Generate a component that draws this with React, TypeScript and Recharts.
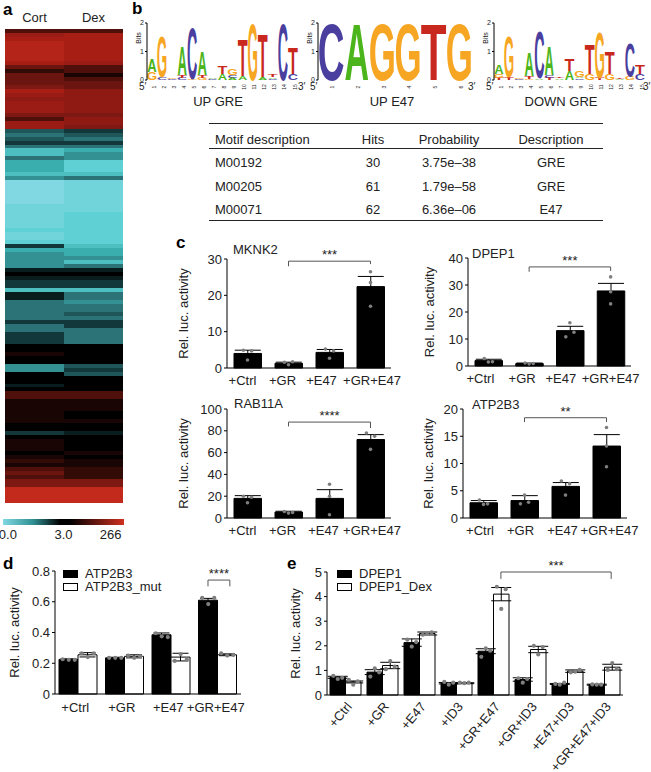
import React from "react";
import {
  Bar,
  BarChart,
  Cell,
  ComposedChart,
  ErrorBar,
  Legend,
  ReferenceLine,
  Scatter,
  XAxis,
  YAxis,
} from "recharts";

const FONT = '"Liberation Sans", Arial, sans-serif';
const INK = "#222";

// panel a: heatmap rows, in tenths of the colour scale (-10 cyan, 0 black, 10 red)
const heatColumns = ["Cort", "Dex"];
const cortValues = [
  3, 7, 8, 9, 9, 9, 9, 9, 8, 4, 2, 4, 4, 4, 5, 8, 7, 6, 7, 7, 7, 5, 3, 7, 7,
  -3, -4, -3, -2, -4, -7, -7, -4, -6, -6, -6, -7, -5,
  -10, -10, -10, -10, -10, -10, -9, -9, -9, -9, -9, -9, -8, -9, -9, -8,
  -2, -6, -5, -5, -5, -5, -1,
  0, -1, -2, -2, -7, -1, -1, -4, -4, -4, -4, -4, -2, -4, -4, -2, -2, -2, 0, 0, 1, 0, 0, -5, -5, 0, 0, 0,
  -1, 0, 3, 3, 1, 1, 1, 1, 1, 1, 0, 0, -2, 0, 1, 1, 1, 0, 1, 2, 1, 3, 4, 3, 5, 5,
  10, 10, 10, 10,
];
const dexValues = [
  3, 8, 8, 8, 8, 8, 8, 8, 7, 3, 3, 1, 3, 4, 4, 6, 6, 6, 6, 6, 6, 5, 6, 6, 5,
  -2, -3, -4, -2, -4, -6, -5, -5, -8, -8, -8, -7, -4,
  -9, -9, -9, -9, -9, -9, -9, -9, -8, -8, -8, -8, -8, -8, -8, -8,
  -7, -6, -6, -5, -7, -4, -1,
  0, -1, -2, -2, -7, -4, -4, -5, -4, -4, -3, -4, -2, -2, -4, -4, -4, -4, 0, 0, 0, 0, 0, -3, -2, -3, 0, 0,
  0, 0, 3, 3, 1, 1, 1, 0, 0, 1, 0, 0, -1, 0, 0, 0, 0, 1, 0, 1, 1, 2, 2, 2, 5, 5,
  10, 10, 10, 10,
];
const scaleTicks = [0.04, 0.5, 0.89];
const scaleLabels = ["0.0", "3.0", "266"];

const coldStops = ["#000000", "#12383b", "#2b7376", "#3aaeaf", "#5fd0d3", "#82d8e2"];
const hotStops = ["#000000", "#320b07", "#6b1510", "#8f1a13", "#a61e14", "#c42a1c"];

function mix(a: string, b: string, t: number) {
  const pa = [1, 3, 5].map((i) => parseInt(a.slice(i, i + 2), 16));
  const pb = [1, 3, 5].map((i) => parseInt(b.slice(i, i + 2), 16));
  return `rgb(${pa.map((c, i) => Math.round(c + (pb[i] - c) * t)).join(",")})`;
}

function heatColor(v: number) {
  const stops = v < 0 ? coldStops : hotStops;
  const p = (Math.abs(v) / 10) * (stops.length - 1);
  const i = Math.min(Math.floor(p), stops.length - 2);
  return mix(stops[i], stops[i + 1], p - i);
}

// panel b: logos, each position is a bottom-up list of [letter, bits]
type Stack = [string, number][];
const upGreLogo: Stack[] = [
  [["G", 0.28], ["A", 0.47]],
  [["C", 0.1], ["G", 1.4]],
  [["C", 0.05], ["G", 0.05]],
  [["C", 0.08], ["T", 0.1], ["A", 1.0]],
  [["G", 0.03], ["C", 1.76]],
  [["G", 0.08], ["T", 0.1], ["A", 0.8]],
  [["C", 0.05], ["A", 0.05]],
  [["A", 0.22], ["T", 0.28]],
  [["A", 0.08], ["C", 0.08], ["G", 0.22]],
  [["A", 0.14], ["T", 1.26]],
  [["G", 1.95]],
  [["A", 0.1], ["T", 1.52]],
  [["C", 0.05], ["A", 0.05], ["T", 0.1]],
  [["C", 1.95]],
  [["C", 0.2], ["T", 0.9]],
];
const upE47Logo: Stack[] = [
  [["C", 1.95]],
  [["A", 1.96]],
  [["G", 1.96]],
  [["G", 1.96]],
  [["T", 1.98]],
  [["G", 1.96]],
];
const downGreLogo: Stack[] = [
  [["T", 0.08], ["G", 0.12], ["A", 0.3]],
  [["T", 0.1], ["G", 1.43]],
  [["C", 0.03], ["G", 0.03]],
  [["G", 0.05], ["T", 0.08], ["A", 0.8]],
  [["A", 0.06], ["C", 1.62]],
  [["T", 0.08], ["C", 0.08], ["A", 1.02]],
  [["A", 0.06], ["T", 0.06]],
  [["A", 0.3], ["T", 0.4]],
  [["C", 0.06], ["A", 0.06], ["G", 0.22]],
  [["G", 0.2], ["T", 1.04]],
  [["T", 0.07], ["G", 1.6]],
  [["G", 0.2], ["T", 0.76]],
  [["A", 0.03], ["T", 0.03]],
  [["G", 0.12], ["C", 1.18]],
  [["C", 0.2], ["T", 0.3]],
];
const logoColors: Record<string, string> = { A: "#4cb51c", C: "#4a3f9f", G: "#f6a623", T: "#c8281e" };
const glyphWidths: Record<string, number> = { A: 0.72, C: 0.66, G: 0.7, T: 0.58 };

const tableHeader = ["Motif description", "Hits", "Probability", "Description"];
const tableRows = [
  ["M00192", "30", "3.75e\u201338", "GRE"],
  ["M00205", "61", "1.79e\u201358", "GRE"],
  ["M00071", "62", "6.36e\u201306", "E47"],
];

// panel c
const luxLabels = ["+Ctrl", "+GR", "+E47", "+GR+E47"];
const mknk2Values = [4, 1.3, 4.3, 22.4];
const mknk2Errors = [0.9, 0.3, 0.8, 2.8];
const mknk2Points = [[4.9, 2.2, 4.7], [1.6, 0.9, 1.7], [5.2, 2.7, 4.7], [26.5, 23.5, 17]];
const dpep1Values = [2, 0.9, 13.1, 27.8];
const dpep1Errors = [0.5, 0.2, 1.6, 2.8];
const dpep1Points = [[2.8, 1.5, 1.6], [1.1, 0.8, 0.9], [10.8, 16, 12.5], [33, 27.5, 23]];
const rab11aValues = [18, 5.5, 18, 72];
const rab11aErrors = [2.5, 0.7, 8, 4.5];
const rab11aPoints = [[20, 14, 19], [6, 4.5, 5], [31, 20, 3], [78, 63, 75]];
const atp2b3Values = [2.8, 3.2, 5.8, 13.2];
const atp2b3Errors = [0.4, 0.9, 0.7, 2.1];
const atp2b3Points = [[3.3, 2.5, 2.6], [2.6, 4.2, 2.9], [6.8, 4.2, 6.3], [16.6, 13.2, 9.4]];

// panel d
const mutBlackValues = [0.225, 0.235, 0.385, 0.61];
const mutBlackErrors = [0.004, 0.004, 0.012, 0.012];
const mutBlackPoints = [[0.226, 0.222, 0.222], [0.235, 0.235, 0.235], [0.395, 0.375, 0.37], [0.625, 0.585, 0.625]];
const mutWhiteValues = [0.255, 0.245, 0.24, 0.255];
const mutWhiteErrors = [0.014, 0.01, 0.025, 0.006];
const mutWhitePoints = [[0.265, 0.24, 0.265], [0.25, 0.235, 0.245], [0.215, 0.26, 0.225], [0.265, 0.25, 0.255]];

// panel e
const id3Labels = ["+Ctrl", "+GR", "+E47", "+ID3", "+GR+E47", "+GR+ID3", "+E47+ID3", "+GR+E47+ID3"];
const dexBlackValues = [0.72, 0.93, 2.13, 0.48, 1.78, 0.63, 0.45, 0.42];
const dexBlackErrors = [0.04, 0.1, 0.15, 0.03, 0.1, 0.07, 0.02, 0.02];
const dexBlackPoints = [
  [0.78, 0.65, 0.7], [0.75, 1.08, 0.92], [2.25, 1.97, 2.15], [0.53, 0.42, 0.5],
  [1.55, 1.9, 1.8], [0.68, 0.5, 0.65], [0.45, 0.42, 0.5], [0.43, 0.42, 0.42],
];
const dexWhiteValues = [0.53, 1.2, 2.5, 0.48, 4.1, 1.85, 0.97, 1.13];
const dexWhiteErrors = [0.04, 0.13, 0.06, 0.02, 0.27, 0.13, 0.05, 0.12];
const dexWhitePoints = [
  [0.62, 0.42, 0.55], [1.05, 1.38, 1.15], [2.45, 2.5, 2.55], [0.5, 0.48, 0.5],
  [4.4, 3.5, 4.3], [2.0, 1.65, 1.95], [0.92, 0.95, 1.02], [1.02, 1.3, 1.05],
];

function Txt({ x, y, children, center, bold, size = 13 }: any) {
  return (
    <div
      style={{
        position: "absolute",
        left: x,
        top: y,
        transform: center ? "translate(-50%,-50%)" : "translateY(-50%)",
        fontSize: size,
        fontWeight: bold ? 700 : 400,
        lineHeight: 1,
        whiteSpace: "nowrap",
        color: bold ? "#000" : INK,
      }}
    >
      {children}
    </div>
  );
}

function Rule({ y }: { y: number }) {
  return <div style={{ position: "absolute", left: 209, width: 394, top: y, height: 1, background: "#222" }} />;
}

function Heatmap() {
  const table = heatColumns.map((name, c) => {
    const row: any = { name };
    (c === 0 ? cortValues : dexValues).forEach((_, i) => (row[`r${i}`] = 1));
    return row;
  });
  return (
    <div style={{ position: "absolute", left: 0, top: 0 }}>
      <BarChart
        width={130}
        height={505}
        data={table}
        barCategoryGap={0}
        margin={{ top: 0, right: 7, bottom: 2, left: 5 }}
      >
        <XAxis
          dataKey="name"
          orientation="top"
          height={29}
          axisLine={false}
          tickLine={false}
          tickMargin={1}
          tick={{ fill: INK, fontSize: 13 }}
        />
        <YAxis hide reversed type="number" domain={[0, cortValues.length]} />
        {cortValues.map((_, i) => (
          <Bar key={i} dataKey={`r${i}`} stackId="heat" isAnimationActive={false} shapeRendering="crispEdges">
            <Cell fill={heatColor(cortValues[i])} />
            <Cell fill={heatColor(dexValues[i])} />
          </Bar>
        ))}
      </BarChart>
    </div>
  );
}

function HeatScale() {
  return (
    <div style={{ position: "absolute", left: 0, top: 519 }}>
      <BarChart
        width={130}
        height={26}
        layout="vertical"
        data={[{ name: "scale", span: 1 }]}
        barCategoryGap={0}
        margin={{ top: 0, right: 6, bottom: 0, left: 3 }}
      >
        <defs>
          <linearGradient id="heatScale" x1="0" x2="1" y1="0" y2="0">
            <stop offset="0" stopColor="#7fd8e2" />
            <stop offset="0.25" stopColor="#2f8f92" />
            <stop offset="0.47" stopColor="#000" />
            <stop offset="0.55" stopColor="#000" />
            <stop offset="1" stopColor="#d0301f" />
          </linearGradient>
        </defs>
        <XAxis
          type="number"
          domain={[0, 1]}
          ticks={scaleTicks}
          height={20}
          interval={0}
          axisLine={false}
          tickLine={false}
          tickMargin={-1}
          tick={{ fill: INK, fontSize: 13 }}
          tickFormatter={(v: number) => scaleLabels[scaleTicks.indexOf(v)]}
        />
        <YAxis hide type="category" dataKey="name" />
        <Bar dataKey="span" fill="url(#heatScale)" isAnimationActive={false} />
      </BarChart>
    </div>
  );
}

function Glyph({ x, y, width, height, letter }: any) {
  if (!letter || !height) return null;
  const sx = (width * 0.94) / (glyphWidths[letter] * 100);
  const sy = height / 70;
  return (
    <text
      transform={`translate(${x + width / 2},${y + height}) scale(${sx},${sy})`}
      textAnchor="middle"
      fontSize={100}
      fontWeight={700}
      fontFamily={FONT}
      fill={logoColors[letter]}
    >
      {letter}
    </text>
  );
}

function Logo({ stacks, left, right, name, nameX, endX }: any) {
  const layers = [0, 1, 2];
  const table = stacks.map((stack: Stack, i: number) => {
    const row: any = { pos: String(i + 1) };
    layers.forEach((k) => {
      row[`v${k}`] = stack[k] ? stack[k][1] : 0;
      row[`l${k}`] = stack[k] ? stack[k][0] : "";
    });
    return row;
  });
  const yW = 26;
  return (
    <>
      <div style={{ position: "absolute", left: left - yW, top: 0 }}>
        <BarChart
          width={right - left + yW + 2}
          height={102}
          data={table}
          barCategoryGap={0}
          margin={{ top: 23, right: 2, bottom: 10, left: 0 }}
        >
          <XAxis
            dataKey="pos"
            height={12}
            interval={0}
            axisLine={false}
            tickLine={false}
            tickMargin={1}
            angle={-90}
            tick={{ fill: INK, fontSize: 5 }}
          />
          <YAxis
            type="number"
            domain={[0, 2]}
            ticks={[0, 1, 2]}
            width={yW}
            tickSize={2}
            tickMargin={1}
            tick={{ fill: INK, fontSize: 7 }}
            axisLine={{ stroke: "#000" }}
            tickLine={{ stroke: "#000" }}
            label={{
              value: "Bits",
              angle: -90,
              position: "insideTopLeft",
              fontSize: 7,
              fill: INK,
              offset: 15,
              style: { textAnchor: "middle" },
            }}
          />
          {layers.map((k) => (
            <Bar
              key={k}
              dataKey={`v${k}`}
              stackId="logo"
              isAnimationActive={false}
              shape={(p: any) => <Glyph {...p} letter={p.payload[`l${k}`]} />}
            />
          ))}
        </BarChart>
      </div>
      <Txt x={left - 8} y={87} size={10}>{"5\u2032"}</Txt>
      <Txt x={endX} y={87} size={10}>{"3\u2032"}</Txt>
      <Txt x={nameX} y={101} center>{name}</Txt>
    </>
  );
}

function BarPanel({
  labels,
  series,
  ticks,
  left,
  right,
  top,
  bottom,
  titleX,
  title,
  titleLeft,
  titleY,
  barSize,
  capWidth,
  dotR,
  spread,
  near,
  bracket,
  stars,
  xHeight = 24,
  xMargin = 0,
  labelShift,
  angled,
  format,
  legendAt,
}: any) {
  const head = 24;
  const titlePad = 8;
  const yW = left - titleX + titlePad;
  const bandPx = (right - left) / labels.length;
  const max = ticks[ticks.length - 1];
  const table = labels.map((name: string, i: number) => {
    const row: any = { name };
    series.forEach((s: any, k: number) => {
      row[`v${k}`] = s.values[i];
      row[`e${k}`] = s.errors[i];
    });
    return row;
  });
  const dots = series.flatMap((s: any, k: number) => {
    const shift = ((k - (series.length - 1) / 2) * barSize) / bandPx;
    return s.points.flatMap((triple: number[], i: number) =>
      triple.map((y, j) => {
        const crowded = triple.some((o, m) => m !== j && Math.abs(o - y) < near);
        return { x: i + 0.5 + shift + (crowded ? (j - 1) * spread : 0), y };
      })
    );
  });
  const [x1, x2, yTop, yLeft, yRight] = bracket || [];
  const shiftedTick = (p: any) => (
    <text
      x={p.x + labelShift[p.index]}
      y={p.y}
      dy="0.85em"
      textAnchor="middle"
      fontSize={13}
      fill={INK}
    >
      {p.payload.value}
    </text>
  );
  return (
    <>
      <div style={{ position: "absolute", left: left - yW, top: top - head }}>
        <ComposedChart
          width={yW + right - left + 15}
          height={head + bottom - top + xHeight}
          data={table}
          barGap={0}
          barCategoryGap={0}
          margin={{ top: head, right: 15, bottom: 0, left: 0 }}
        >
          <XAxis
            dataKey="name"
            height={xHeight}
            interval={0}
            tickLine={false}
            tickMargin={xMargin}
            axisLine={{ stroke: "#000" }}
            tick={labelShift ? shiftedTick : { fill: INK, fontSize: 13 }}
            angle={angled ? -50 : 0}
            textAnchor={angled ? "end" : "middle"}
          />
          <XAxis xAxisId="pts" hide type="number" dataKey="x" domain={[0, labels.length]} />
          <YAxis
            type="number"
            domain={[0, max]}
            ticks={ticks}
            width={yW}
            interval={0}
            tickSize={3}
            tickMargin={2}
            axisLine={{ stroke: "#000" }}
            tickLine={{ stroke: "#000" }}
            tick={{ fill: INK, fontSize: 13 }}
            tickFormatter={format}
            label={{
              value: "Rel. luc. activity",
              angle: -90,
              position: "insideLeft",
              fontSize: 13,
              fill: INK,
              offset: titlePad,
              style: { textAnchor: "middle" },
            }}
          />
          {series.map((s: any, k: number) => (
            <Bar
              key={k}
              name={s.name}
              dataKey={`v${k}`}
              fill={s.fill}
              stroke="#000"
              strokeWidth={1}
              barSize={barSize}
              isAnimationActive={false}
            >
              <ErrorBar dataKey={`e${k}`} direction="y" width={capWidth} stroke="#000" strokeWidth={1} isAnimationActive={false} />
            </Bar>
          ))}
          <Scatter
            xAxisId="pts"
            data={dots}
            dataKey="y"
            legendType="none"
            isAnimationActive={false}
            shape={(p: any) => <circle cx={p.cx} cy={p.cy} r={dotR} fill="#7f7f7f" />}
          />
          {bracket && (
            <ReferenceLine
              xAxisId="pts"
              ifOverflow="visible"
              stroke="#555"
              segment={[{ x: x1, y: yTop }, { x: x2, y: yTop }]}
              label={{ value: stars, position: "top", fontSize: 13, fill: INK, offset: 2 }}
            />
          )}
          {bracket && (
            <ReferenceLine
              xAxisId="pts"
              ifOverflow="visible"
              stroke="#555"
              segment={[{ x: x1, y: yTop }, { x: x1, y: yLeft }]}
            />
          )}
          {bracket && (
            <ReferenceLine
              xAxisId="pts"
              ifOverflow="visible"
              stroke="#555"
              segment={[{ x: x2, y: yTop }, { x: x2, y: yRight }]}
            />
          )}
          {legendAt && (
            <Legend
              layout="vertical"
              align="center"
              verticalAlign="middle"
              wrapperStyle={{ left: legendAt[0] - left + yW, top: legendAt[1] - top + head, width: 130 }}
              content={() => (
                <div>
                  {series.map((s: any) => (
                    <div key={s.name} style={{ display: "flex", alignItems: "center", height: 13, fontSize: 13, color: INK }}>
                      <span
                        style={{
                          width: 13,
                          height: 6,
                          marginRight: 7,
                          border: "1px solid #000",
                          background: s.fill,
                        }}
                      />
                      {s.name}
                    </div>
                  ))}
                </div>
              )}
            />
          )}
        </ComposedChart>
      </div>
      {title && <Txt x={titleLeft} y={titleY}>{title}</Txt>}
    </>
  );
}

const tableColumns = [215, 373, 449, 551];
const tableLines = [139, 162, 186, 209];

export default function App() {
  const single = (values: number[], errors: number[], points: number[][]) => [
    { name: "value", values, errors, points, fill: "#000" },
  ];
  const cProps = { labels: luxLabels, barSize: 27.5, capWidth: 13, dotR: 1.8, spread: 0.1 };
  const oneDecimal = (v: number) => (v === 0 ? "0" : v.toFixed(1));
  return (
    <div
      style={{
        position: "absolute",
        left: 0,
        top: 0,
        width: 651,
        height: 772,
        overflow: "hidden",
        background: "#fff",
        fontFamily: FONT,
      }}
    >
      <Heatmap />
      <HeatScale />

      <Logo stacks={upGreLogo} left={147} right={298} endX={298} name="UP GRE" nameX={218} />
      <Logo stacks={upE47Logo} left={318} right={472} endX={468} name="UP E47" nameX={392} />
      <Logo stacks={downGreLogo} left={494} right={645} endX={643} name="DOWN GRE" nameX={561} />

      <Rule y={123} />
      <Rule y={148} />
      <Rule y={220} />
      {tableHeader.map((text, c) => (
        <Txt key={text} x={tableColumns[c]} y={tableLines[0]} center={c > 0}>{text}</Txt>
      ))}
      {tableRows.map((row, r) =>
        row.map((text, c) => (
          <Txt key={`${r}-${c}`} x={tableColumns[c]} y={tableLines[r + 1]} center={c > 0}>{text}</Txt>
        ))
      )}

      <BarPanel
        {...cProps}
        series={single(mknk2Values, mknk2Errors, mknk2Points)}
        ticks={[0, 10, 20, 30]}
        near={3}
        labelShift={[-5, -6, -8, 1.5]}
        left={227} right={391} top={259} bottom={368} titleX={183}
        title="MKNK2" titleLeft={233} titleY={249}
        bracket={[1.5, 3.5, 29.4, 28, 28.6]} stars="***"
      />
      <BarPanel
        {...cProps}
        series={single(dpep1Values, dpep1Errors, dpep1Points)}
        ticks={[0, 10, 20, 30, 40]}
        near={3}
        labelShift={[-8, -7, -9, 0]}
        left={468} right={631} top={258} bottom={366} titleX={429}
        title="DPEP1" titleLeft={472} titleY={253}
        bracket={[1.5, 3.5, 36.7, 34.9, 35.2]} stars="***"
      />
      <BarPanel
        {...cProps}
        series={single(rab11aValues, rab11aErrors, rab11aPoints)}
        ticks={[0, 20, 40, 60, 80, 100]}
        near={8}
        labelShift={[-5, -6, -6, 1.5]}
        left={227} right={391} top={409} bottom={518} titleX={183}
        title="RAB11A" titleLeft={234} titleY={403}
        bracket={[1.5, 3.5, 88, 84, 82.5]} stars="****"
      />
      <BarPanel
        {...cProps}
        series={single(atp2b3Values, atp2b3Errors, atp2b3Points)}
        ticks={[0, 5, 10, 15, 20]}
        near={2.2}
        labelShift={[-3.5, -4, -3, 3]}
        left={463} right={627} top={409} bottom={518} titleX={428}
        title="ATP2B3" titleLeft={472} titleY={404}
        bracket={[1.5, 3.5, 18.4, 17.6, 17.6]} stars="**"
      />

      <BarPanel
        labels={luxLabels}
        series={[
          { name: "ATP2B3", values: mutBlackValues, errors: mutBlackErrors, points: mutBlackPoints, fill: "#000" },
          { name: "ATP2B3_mut", values: mutWhiteValues, errors: mutWhiteErrors, points: mutWhitePoints, fill: "#fff" },
        ]}
        ticks={[0, 0.2, 0.4, 0.6, 0.8]}
        format={oneDecimal}
        barSize={19}
        capWidth={8}
        dotR={2.1}
        spread={0.13}
        near={0.05}
        xMargin={1}
        labelShift={[-3, -3, -3, -2]}
        left={55} right={241} top={571} bottom={694} titleX={14}
        bracket={[3.29, 3.76, 0.741, 0.7, 0.7]} stars="****"
        legendAt={[63, 567]}
      />
      <BarPanel
        labels={id3Labels}
        series={[
          { name: "DPEP1", values: dexBlackValues, errors: dexBlackErrors, points: dexBlackPoints, fill: "#000" },
          { name: "DPEP1_Dex", values: dexWhiteValues, errors: dexWhiteErrors, points: dexWhitePoints, fill: "#fff" },
        ]}
        ticks={[0, 1, 2, 3, 4, 5]}
        barSize={15.5}
        capWidth={10}
        dotR={2.1}
        spread={0.12}
        near={0.45}
        xMargin={0}
        left={327} right={623} top={572} bottom={695} titleX={295}
        bracket={[4.7, 7.68, 5, 4.72, 4.72]} stars="***"
        xHeight={76}
        angled
        legendAt={[337, 567]}
      />

      <Txt x={3} y={9} bold size={17}>a</Txt>
      <Txt x={132} y={8} bold size={17}>b</Txt>
      <Txt x={176} y={242} bold size={17}>c</Txt>
      <Txt x={3} y={563} bold size={17}>d</Txt>
      <Txt x={287} y={563} bold size={17}>e</Txt>
    </div>
  );
}
